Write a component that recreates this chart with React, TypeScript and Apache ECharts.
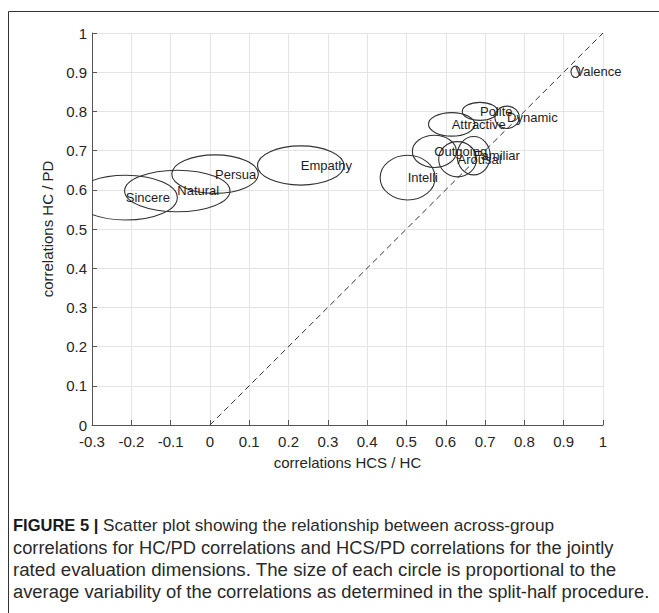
import React, { useEffect, useRef } from 'react';
import * as echarts from 'echarts';

const names = ['Sincere', 'Natural', 'Persua', 'Empathy', 'Intelli', 'Outgoing', 'Arousal', 'Familiar', 'Attractive', 'Polite', 'Dynamic', 'Valence'];
const xs = [-0.214, -0.083, 0.013, 0.231, 0.503, 0.571, 0.630, 0.671, 0.615, 0.687, 0.756, 0.930];
const ys = [0.580, 0.597, 0.640, 0.662, 0.631, 0.698, 0.678, 0.687, 0.767, 0.800, 0.785, 0.901];
const rxs = [0.131, 0.134, 0.110, 0.110, 0.070, 0.056, 0.048, 0.042, 0.059, 0.045, 0.031, 0.0115];
const rys = [0.057, 0.053, 0.049, 0.050, 0.057, 0.041, 0.045, 0.049, 0.030, 0.023, 0.0285, 0.0145];

const diagonal = [[0, 0], [1, 1]];

const xAxisName = 'correlations HCS / HC';
const yAxisName = 'correlations HC / PD';

const captionBold = 'FIGURE 5 |';
const captionLines = [
  ' Scatter plot showing the relationship between across-group',
  'correlations for HC/PD correlations and HCS/PD correlations for the jointly',
  'rated evaluation dimensions. The size of each circle is proportional to the',
  'average variability of the correlations as determined in the split-half procedure.',
];

const FONT = '"Liberation Sans", Arial, Helvetica, sans-serif';

export default function App() {
  const ref = useRef<HTMLDivElement>(null);

  useEffect(() => {
    if (!ref.current) return;
    const chart = echarts.init(ref.current, null, { renderer: 'svg' });
    const data = names.map((_, i) => [xs[i], ys[i], rxs[i], rys[i]]);
    const captionY = [525, 547.3, 569.3, 591.6];
    const captionSize = [17.2, 18.3, 18.7, 18.35];

    const graphics: any[] = [
      {
        type: 'rect',
        shape: { x: 8.5, y: 11.5, width: 700, height: 700 },
        style: { fill: 'none', stroke: '#333', lineWidth: 1 },
        silent: true,
      },
    ];
    captionLines.forEach((line, i) => {
      graphics.push({
        type: 'text',
        x: 13,
        y: captionY[i],
        silent: true,
        style: {
          text: i === 0 ? `{b|${captionBold}}{r|${line}}` : line,
          fill: '#2a2a2a',
          fontSize: captionSize[i],
          fontFamily: FONT,
          verticalAlign: 'middle',
          align: 'left',
          rich: {
            b: { fontWeight: 'bold', fontSize: 16.5, fontFamily: FONT, fill: '#1a1a1a' },
            r: { fontSize: captionSize[i], fontFamily: FONT, fill: '#2a2a2a' },
          },
        },
      });
    });

    chart.setOption({
      animation: false,
      grid: { left: 92, top: 33, width: 511, height: 392 },
      xAxis: {
        type: 'value',
        min: -0.3,
        max: 1,
        interval: 0.1,
        name: xAxisName,
        nameLocation: 'middle',
        nameGap: 30,
        nameTextStyle: { fontSize: 15, color: '#262626', fontFamily: FONT },
        axisLine: { show: true, onZero: false, lineStyle: { color: '#555', width: 1 } },
        axisTick: { show: true, inside: true, length: 5, lineStyle: { color: '#555' } },
        axisLabel: { fontSize: 15, color: '#262626', margin: 9, fontFamily: FONT },
        splitLine: { show: true, lineStyle: { color: '#e4e4e4', width: 1 } },
      },
      yAxis: {
        type: 'value',
        min: 0,
        max: 1,
        interval: 0.1,
        name: yAxisName,
        nameLocation: 'middle',
        nameGap: 30,
        nameTextStyle: { fontSize: 15, color: '#262626', fontFamily: FONT },
        axisLine: { show: true, onZero: false, lineStyle: { color: '#555', width: 1 } },
        axisTick: { show: true, inside: true, length: 5, lineStyle: { color: '#555' } },
        axisLabel: { fontSize: 15, color: '#262626', margin: 5, fontFamily: FONT },
        splitLine: { show: true, lineStyle: { color: '#e4e4e4', width: 1 } },
      },
      graphic: graphics,
      series: [
        {
          type: 'line',
          data: diagonal,
          symbol: 'none',
          silent: true,
          lineStyle: { type: [6, 4], color: '#333', width: 1 },
          z: 3,
        },
        {
          type: 'custom',
          clip: true,
          silent: true,
          encode: { x: 0, y: 1 },
          data,
          z: 4,
          renderItem: (params: any, api: any) => {
            const c = api.coord([api.value(0), api.value(1)]);
            const s = api.size([api.value(2), api.value(3)], [api.value(0), api.value(1)]);
            return {
              type: 'ellipse',
              shape: { cx: c[0], cy: c[1], rx: s[0], ry: s[1] },
              style: { fill: 'none', stroke: '#333', lineWidth: 1.1 },
            };
          },
        },
        {
          type: 'custom',
          silent: true,
          encode: { x: 0, y: 1 },
          data,
          z: 5,
          renderItem: (params: any, api: any) => {
            const c = api.coord([api.value(0), api.value(1)]);
            return {
              type: 'text',
              x: c[0],
              y: c[1],
              style: {
                text: names[params.dataIndex],
                fill: '#1e1e1e',
                fontSize: 13,
                fontFamily: FONT,
                align: 'left',
                verticalAlign: 'middle',
              },
            };
          },
        },
      ],
    });
    return () => chart.dispose();
  }, []);

  return (
    <div
      ref={ref}
      style={{ position: 'absolute', left: 0, top: 0, width: 659, height: 613, background: '#fff' }}
    />
  );
}
